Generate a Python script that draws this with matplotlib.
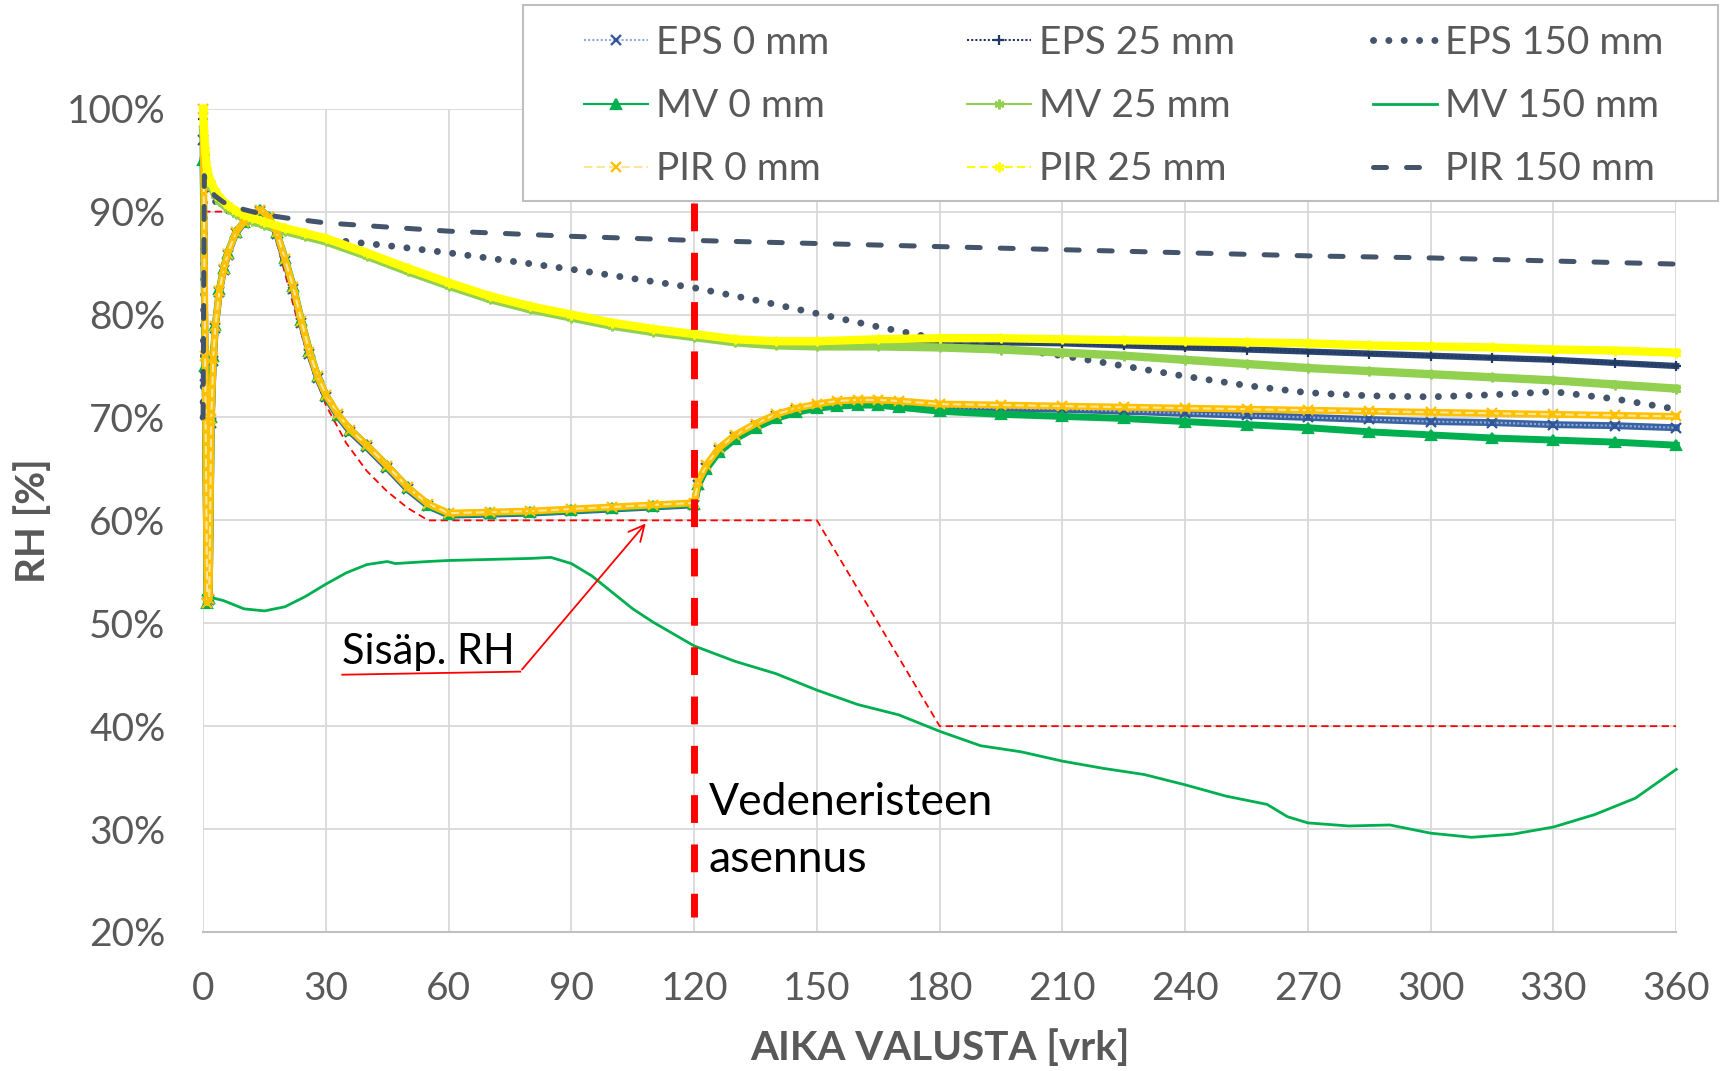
import matplotlib.pyplot as plt
from matplotlib.lines import Line2D
from matplotlib.patches import Rectangle

plt.rcParams['font.family'] = ['Lato', 'DejaVu Sans']

# days after casting, 0 mm insulation cases
days_0mm = [0, 0.5, 1, 1.5, 2, 2.5, 3, 4, 5, 6, 8, 10, 12, 14, 16, 18, 20, 22, 24, 26,
            28, 30, 33, 36, 40, 45, 50, 55, 60, 70, 80, 90, 100, 110, 120, 121, 123, 126, 130, 135,
            140, 145, 150, 155, 160, 165, 170, 180, 195, 210, 225, 240, 255, 270, 285, 300, 315, 330, 345, 360]
eps_0 = [97, 74, 52, 52.3, 69.5, 75.5, 78.7, 82.2, 84.3, 85.8,
         87.9, 88.9, 89.6, 90.1, 89.4, 87.8, 85.2, 82.5, 79.2, 76.2,
         73.8, 72.0, 70.1, 68.6, 67.1, 65.1, 63.0, 61.4, 60.5, 60.6,
         60.7, 60.9, 61.1, 61.3, 61.5, 63.4, 65.1, 66.8, 68.1, 69.2,
         70.1, 70.7, 71.0, 71.3, 71.4, 71.4, 71.3, 71.0, 70.9, 70.8,
         70.6, 70.4, 70.2, 70.0, 69.8, 69.6, 69.5, 69.3, 69.2, 69.0]
mv_0 = [95, 75, 52, 52.5, 70, 76, 79, 82.5, 84.5, 86,
        88, 89, 89.7, 90.2, 89.5, 88, 85.5, 82.8, 79.5, 76.5,
        74, 72.2, 70.2, 68.8, 67.3, 65.3, 63.2, 61.5, 60.6, 60.7,
        60.8, 61, 61.2, 61.4, 61.6, 63.5, 65, 66.6, 67.9, 69,
        69.9, 70.5, 70.9, 71.1, 71.2, 71.2, 71.0, 70.6, 70.3, 70.1,
        69.9, 69.6, 69.3, 69.0, 68.6, 68.3, 68.0, 67.8, 67.6, 67.3]
pir_0 = [100, 76, 52, 52.4, 69.8, 75.8, 78.9, 82.3, 84.4, 85.9,
         88.0, 89.0, 89.7, 90.2, 89.5, 88.0, 85.4, 82.7, 79.4, 76.4,
         74.0, 72.2, 70.3, 68.8, 67.3, 65.3, 63.2, 61.6, 60.7, 60.8,
         60.9, 61.1, 61.3, 61.5, 61.7, 63.8, 65.4, 67.0, 68.3, 69.4,
         70.3, 70.9, 71.3, 71.6, 71.7, 71.7, 71.6, 71.3, 71.2, 71.1,
         71.0, 70.9, 70.8, 70.7, 70.6, 70.5, 70.4, 70.3, 70.2, 70.1]

# 25 mm insulation cases
days_25mm = [0, 0.5, 1, 2, 3, 4, 6, 8, 10, 12, 15, 20, 25, 30, 40, 50, 60, 70, 80, 90,
             100, 110, 120, 130, 140, 150, 165, 180, 195, 210, 225, 240, 255, 270, 285, 300, 315, 330, 345, 360]
eps_25 = [99, 95.5, 93.7, 92.6, 91.8, 91.2, 90.5, 90.0, 89.6, 89.3,
          88.9, 88.3, 87.8, 87.3, 85.9, 84.4, 83.0, 81.7, 80.7, 79.9,
          79.1, 78.5, 78.0, 77.5, 77.2, 77.1, 77.2, 77.3, 77.3, 77.2,
          77.0, 76.8, 76.6, 76.4, 76.2, 76.0, 75.8, 75.6, 75.3, 75.0]
mv_25 = [98, 95, 93.5, 92.4, 91.6, 91.0, 90.3, 89.8, 89.4, 89.1,
         88.7, 88.1, 87.6, 87.1, 85.7, 84.2, 82.8, 81.5, 80.5, 79.7,
         78.9, 78.3, 77.8, 77.3, 77.0, 76.9, 76.9, 76.8, 76.6, 76.3,
         76.0, 75.6, 75.2, 74.8, 74.5, 74.2, 73.9, 73.6, 73.2, 72.8]
pir_25 = [100, 96, 94, 92.8, 92, 91.4, 90.6, 90.1, 89.7, 89.4,
          89, 88.4, 87.9, 87.4, 86, 84.5, 83.1, 81.8, 80.8, 80,
          79.2, 78.6, 78.1, 77.6, 77.4, 77.4, 77.6, 77.7, 77.7, 77.6,
          77.5, 77.4, 77.3, 77.2, 77.0, 76.9, 76.8, 76.6, 76.5, 76.3]

# 150 mm insulation cases
days_eps150 = [0, 0.3, 1, 3, 5, 10, 15, 20, 30, 45, 60, 75, 90, 105, 120, 135,
               150, 165, 180, 195, 210, 225, 240, 255, 270, 285, 300, 315, 330, 345, 360]
eps_150 = [70, 93, 92, 91, 90.3, 89.3, 88.6, 88.0, 87.3, 86.7, 86.0, 85.2, 84.4, 83.5, 82.6, 81.4,
           80.1, 78.8, 77.6, 76.8, 76.0, 75.0, 74.0, 73.1, 72.4, 72.1, 72.0, 72.2, 72.5, 71.8, 70.8]
days_mv150 = [0, 5, 10, 15, 20, 25, 30, 35, 40, 45, 47, 55, 60, 70, 80, 85, 90, 95, 100, 105,
              110, 120, 130, 140, 150, 160, 170, 180, 190, 200, 210, 220, 230, 240, 250, 260, 265, 270,
              280, 290, 300, 310, 320, 330, 340, 350, 360]
mv_150 = [52.7, 52.2, 51.4, 51.2, 51.6, 52.6, 53.8, 54.9, 55.7, 56.0, 55.8, 56.0, 56.1, 56.2, 56.3,
          56.4, 55.8, 54.6, 53.0, 51.4, 50.1, 47.8, 46.3, 45.1, 43.5, 42.1, 41.1, 39.5, 38.1, 37.5,
          36.6, 35.9, 35.3, 34.3, 33.2, 32.4, 31.2, 30.6, 30.3, 30.4, 29.6, 29.2, 29.5, 30.2, 31.4,
          33.0, 35.8]
days_pir150 = [0, 0.3, 1, 3, 5, 10, 15, 20, 30, 60, 90, 120, 150, 180, 210, 240, 270, 300, 330, 360]
pir_150 = [70, 93.5, 92.3, 91.5, 90.9, 90.2, 89.7, 89.4, 88.9, 88.1, 87.6, 87.2, 86.9, 86.6, 86.3,
           86.0, 85.7, 85.5, 85.2, 84.9]

# indoor air RH
days_indoor = [0, 15, 17, 20, 23, 26, 30, 35, 40, 45, 50, 55, 150, 180, 360]
rh_indoor = [90, 90, 88.5, 84, 79.5, 75.5, 71.2, 67.5, 64.8, 62.8, 61.2, 60, 60, 40, 40]

x_ticks = list(range(0, 361, 30))
y_ticks = list(range(20, 101, 10))

GRAY_TXT = '#595959'
fig = plt.figure(figsize=(17.21, 10.71), dpi=100)
ax = fig.add_axes([0.118, 0.1298, 0.856, 0.7687])

# (label, x, y, line colour, linestyle, lw, marker, marker colour, band colour, band width)
series = [
    ('EPS 0 mm', days_0mm, eps_0, '#8FAADC', (0, (1, 1)), 1.5, 'x', '#2F5597', '#3A62A0', 5),
    ('EPS 25 mm', days_25mm, eps_25, '#203864', (0, (1, 1)), 1.5, '+', '#203864', '#2B4470', 4.5),
    ('EPS 150 mm', days_eps150, eps_150, '#44546A', (0, (0.01, 2.2)), 5, None, None, None, 0),
    ('MV 0 mm', days_0mm, mv_0, '#00B050', '-', 1.5, '^', '#00B050', '#00B050', 5),
    ('MV 25 mm', days_25mm, mv_25, '#92D050', '-', 1.5, (6, 2, 0), '#92D050', '#92D050', 6),
    ('MV 150 mm', days_mv150, mv_150, '#00B050', '-', 2.0, None, None, None, 0),
    ('PIR 0 mm', days_0mm, pir_0, '#FFE699', (0, (4, 2)), 1.5, 'x', '#FFC000', '#FFC000', 5),
    ('PIR 25 mm', days_25mm, pir_25, '#FFFF00', (0, (4, 2)), 1.5, (6, 2, 0), '#FFFF00', '#FFFF00', 6),
    ('PIR 150 mm', days_pir150, pir_150, '#44546A', (0, (2.6, 4)), 3.6, None, None, None, 0),
]

handles = {}
for i, (label, xs, ys, col, ls, lw, mk, mcol, band, band_w) in enumerate(series):
    z = 3 + i * 0.01
    if band:
        # dense markers in the source data read as a solid band
        ax.plot(xs, ys, color=band, linewidth=band_w, solid_joinstyle='round',
                clip_on=False, zorder=z)
    kw = dict(color=col, linestyle=ls, linewidth=lw)
    if lw > 3:
        kw['dash_capstyle'] = 'round'
    if mk is not None:
        kw.update(marker=mk, markersize=7, markerfacecolor=mcol, markeredgecolor=mcol,
                  markeredgewidth=1.6)
    ax.plot(xs, ys, clip_on=False, zorder=z + 0.005, **kw)
    handles[label] = Line2D([], [], **kw)

# indoor RH and the waterproofing installation marker
ax.plot(days_indoor, rh_indoor, color='#FF0000', linewidth=1.3, dashes=(4, 2.5), zorder=2.5)
ax.plot([120, 120], [90.8, 21.5], color='#FF0000', linewidth=5, dashes=(4, 3.1), zorder=5)

ax.text(123.5, 32.6, 'Vedeneristeen', fontsize=32, va='center', ha='left', color='black', zorder=6)
ax.text(123.5, 27.0, 'asennus', fontsize=32, va='center', ha='left', color='black', zorder=6)
ax.text(34, 47.2, 'Sisäp. RH', fontsize=30, va='center', ha='left', color='black', zorder=6)
ax.plot([34, 77.5], [45.0, 45.3], color='#FF0000', linewidth=1.3, zorder=6)
ax.annotate('', xy=(108.6, 59.9), xytext=(77.5, 45.3),
            arrowprops=dict(arrowstyle='->', color='#FF0000', lw=1.3,
                            mutation_scale=28), zorder=6)

ax.set_xlim(0, 360)
ax.set_ylim(20, 100)
ax.set_xticks(x_ticks)
ax.set_yticks(y_ticks)
ax.set_yticklabels([f'{v}%' for v in y_ticks])
ax.tick_params(axis='both', length=0, labelsize=28, labelcolor=GRAY_TXT)
ax.tick_params(axis='x', pad=28)
ax.tick_params(axis='y', pad=27)
ax.grid(True, color='#D9D9D9', linewidth=1.3)
ax.set_axisbelow(True)
for side in ('top', 'right', 'left'):
    ax.spines[side].set_visible(False)
ax.spines['bottom'].set_color('#BFBFBF')
ax.spines['bottom'].set_linewidth(1.5)

fig.text(0.019, 0.5135, 'RH [%]', rotation=90, fontsize=29, fontweight='bold',
         color=GRAY_TXT, ha='center', va='center')
fig.text(0.546, 0.0215, 'AIKA VALUSTA [vrk]', fontsize=29, fontweight='bold',
         color=GRAY_TXT, ha='center', va='center')

# legend box drawn separately so the three columns can sit inside with equal margins
box = Rectangle((523 / 1721, 1 - 201 / 1071), (1718 - 523) / 1721, 196 / 1071,
                transform=fig.transFigure, facecolor='white', edgecolor='#BFBFBF',
                linewidth=1.5, zorder=9)
fig.add_artist(box)

order = ['EPS 0 mm', 'MV 0 mm', 'PIR 0 mm', 'EPS 25 mm', 'MV 25 mm', 'PIR 25 mm',
         'EPS 150 mm', 'MV 150 mm', 'PIR 150 mm']
leg = fig.legend([handles[k] for k in order], order, ncol=3, loc='upper left',
                 bbox_to_anchor=(584 / 1721, 1 - 25 / 1071, (1663 - 584) / 1721, 0),
                 mode='expand', borderaxespad=0, borderpad=0, fontsize=28,
                 handlelength=1.64, handletextpad=0.2, labelspacing=0.7,
                 numpoints=1, frameon=False)
for t in leg.get_texts():
    t.set_color(GRAY_TXT)
leg.set_zorder(10)

fig.savefig('out.png', dpi=100)
